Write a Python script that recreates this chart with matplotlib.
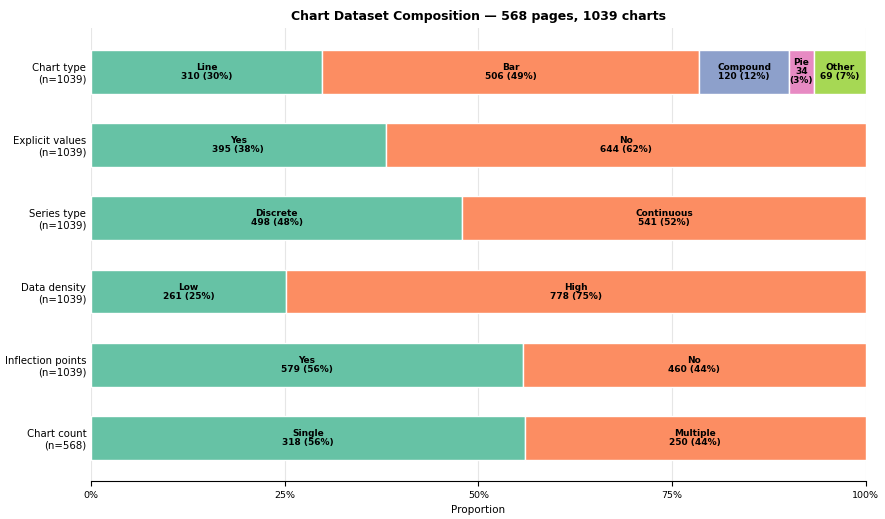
import matplotlib.pyplot as plt
from matplotlib.ticker import PercentFormatter

# rows, top to bottom
rows = ["Chart type\n(n=1039)", "Explicit values\n(n=1039)", "Series type\n(n=1039)",
        "Data density\n(n=1039)", "Inflection points\n(n=1039)", "Chart count\n(n=568)"]
segment_names = [
    ["Line", "Bar", "Compound", "Pie", "Other"],
    ["Yes", "No"],
    ["Discrete", "Continuous"],
    ["Low", "High"],
    ["Yes", "No"],
    ["Single", "Multiple"],
]
segment_counts = [
    [310, 506, 120, 34, 69],
    [395, 644],
    [498, 541],
    [261, 778],
    [579, 460],
    [318, 250],
]

colors = ["#66c2a5", "#fc8d62", "#8da0cb", "#e78ac3", "#a6d854"]

fig, ax = plt.subplots(figsize=(8.85, 5.19), dpi=100)

for i, (names, counts) in enumerate(zip(segment_names, segment_counts)):
    total = sum(counts)
    left = 0.0
    for j, (name, c) in enumerate(zip(names, counts)):
        w = c / total
        ax.barh(i, w, left=left, height=0.6, color=colors[j],
                edgecolor="white", linewidth=1, zorder=2)
        pct = round(100 * c / total)
        if w < 0.05:
            txt = f"{name}\n{c}\n({pct}%)"
        else:
            txt = f"{name}\n{c} ({pct}%)"
        ax.text(left + w / 2, i, txt, ha="center", va="center",
                fontsize=6.5, fontweight="bold", linespacing=1.0, zorder=3)
        left += w

ax.set_yticks(range(len(rows)))
ax.set_yticklabels(rows, fontsize=7.3)
ax.set_xlim(0, 1)
ax.set_ylim(len(rows) - 0.41, -0.6)
ax.xaxis.set_major_formatter(PercentFormatter(1.0, decimals=0))
ax.set_xticks([0, 0.25, 0.5, 0.75, 1.0])
ax.tick_params(axis="x", labelsize=6.8)
ax.tick_params(axis="y", length=0)
ax.set_xlabel("Proportion", fontsize=7.5)
ax.grid(axis="x", color="#e6e6e6", linewidth=0.8, zorder=0)
for s in ["top", "right", "left"]:
    ax.spines[s].set_visible(False)
ax.set_title("Chart Dataset Composition \u2014 568 pages, 1039 charts",
             fontsize=9, fontweight="bold")

plt.subplots_adjust(left=0.103, right=0.978, top=0.946, bottom=0.073)
plt.savefig("out.png")
